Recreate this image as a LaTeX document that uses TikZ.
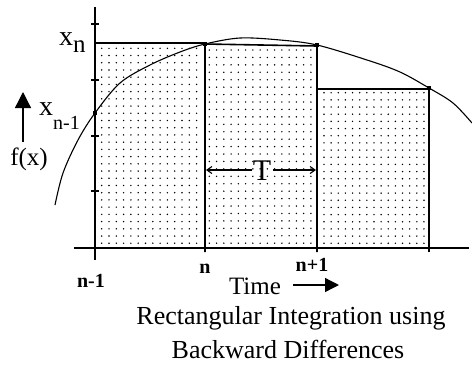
\documentclass[tikz,border=0pt]{standalone}
\usepackage{fontspec}
\setmainfont{Liberation Serif}
\usetikzlibrary{arrows.meta}
\begin{document}
\begin{tikzpicture}[x=1pt,y=-1pt,
  axisline/.style={line width=1.7pt,black},
  rectline/.style={line width=1.6pt,black},
  curveline/.style={line width=1.1pt,black},
  griddot/.style={fill=black},
  ptmark/.style={fill=black,minimum size=4.5pt,inner sep=0pt,draw=none,rectangle},
  lbltxt/.style={inner sep=0pt,font=\fontsize{25}{28}\selectfont},
  bigtxt/.style={inner sep=0pt,font=\fontsize{28}{30}\selectfont},
  smalltxt/.style={inner sep=0pt,font=\fontsize{20}{22}\selectfont\bfseries},
  captext/.style={inner sep=0pt,font=\fontsize{26}{30}\selectfont}]
\useasboundingbox (0,0) rectangle (472,365);
% dots
\foreach \i in {0,...,13}{\foreach \j in {0,...,27}{\fill[griddot] (101.7+\i*7.3, 48.3+\j*7.22) circle (0.8);}}
\foreach \i in {0,...,14}{\foreach \j in {0,...,26}{\fill[griddot] (209.3+\i*7.26, 50+\j*7.43) circle (0.8);}}
\foreach \i in {0,...,14}{\foreach \j in {0,...,21}{\fill[griddot] (324+\i*7.14, 92.7+\j*7.17) circle (0.8);}}
% coordinates
\coordinate (ytop) at (95,7);
\coordinate (ybot) at (95,260);
\coordinate (xl) at (74,248);
\coordinate (xr) at (469,248);
\coordinate (p0) at (95,113);
\coordinate (p1) at (205,44);
\coordinate (p2) at (317,45);
\coordinate (p3) at (429,88);
% rectangles
\draw[rectline] (95,43) -- (205,43);
\draw[rectline] (205,252) -- (205,44) -- (317,46) -- (317,252);
\draw[rectline] (317,89) -- (429,89) -- (429,252);
% axes
\draw[axisline] (ytop) -- (ybot);
\draw[axisline] (xl) -- (xr);
\foreach \t in {24,80,136,191}{\draw[line width=1.2pt] (91,\t) -- (99,\t);}
% curve
\draw[curveline] plot[smooth,tension=0.55] coordinates {(55,205) (63,173) (78,140) (95,113) (120,83) (150,65) (180,52) (205,44) (240,38) (280,40) (317,45) (367,60) (400,72) (429,88) (453,103) (472,123)};
\node[ptmark] (m0) at (p0) {};
\node[ptmark] (m1) at (p1) {};
\node[ptmark] (m2) at (p2) {};
\node[ptmark] (m3) at (p3) {};
% labels
\node[bigtxt,anchor=base west] (xn) at (59,45) {x\raisebox{-7pt}{\fontsize{25}{28}\selectfont n}};
\node[bigtxt,anchor=base west] (xn1) at (39,115) {x\raisebox{-14pt}{\fontsize{20}{22}\selectfont n-1}};
\node[lbltxt,anchor=base] (fx) at (29,165) {f(x)};
\coordinate (fa0) at (23,142);
\coordinate (fa1) at (23,92);
\draw[line width=1.3pt,-{Triangle[length=16pt,width=16pt]}] (fa0) -- (fa1);
% T
\node[inner sep=0pt,font=\fontsize{30}{32}\selectfont,anchor=base] (T) at (262,180) {T};
\coordinate (tl0) at (252,170);
\coordinate (tr0) at (273,170);
\coordinate (tl) at (206,170);
\coordinate (tr) at (316,170);
\draw[line width=1.1pt,-{Straight Barb[length=5pt,width=7pt]}] (tl0) -- (tl);
\draw[line width=1.1pt,-{Straight Barb[length=5pt,width=7pt]}] (tr0) -- (tr);
% x labels
\node[smalltxt,anchor=base] (ln1) at (91,287) {n-1};
\node[smalltxt,anchor=base] (ln) at (205,273) {n};
\node[smalltxt,anchor=base] (lnp) at (312,271) {n+1};
\node[lbltxt,anchor=base] (time) at (255,294) {Time};
\coordinate (ta0) at (293,285);
\coordinate (ta1) at (339,285);
\draw[line width=1.3pt,-{Triangle[length=14pt,width=14pt]}] (ta0) -- (ta1);
\node[captext,anchor=base] (c1) at (291,324) {Rectangular Integration using};
\node[captext,anchor=base] (c2) at (288,358) {Backward Differences};
\end{tikzpicture}
\end{document}
